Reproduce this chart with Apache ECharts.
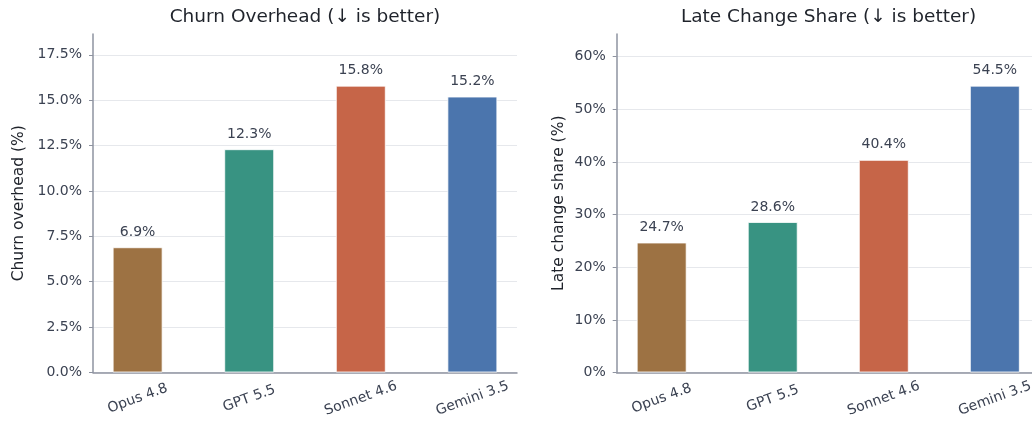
<!DOCTYPE html>
<html><head><meta charset="utf-8">
<script src="https://cdn.jsdelivr.net/npm/echarts@6/dist/echarts.min.js"></script>
<style>html,body{margin:0;padding:0;background:#fff}#c{width:1032px;height:421px}</style>
</head><body><div id="c"></div>
<script>
const categories = ['Opus 4.8', 'GPT 5.5', 'Sonnet 4.6', 'Gemini 3.5'];
const colors = ['#9d7243', '#389382', '#c66548', '#4b75ad'];
const churnValues = [6.9, 12.3, 15.8, 15.2];
const lateValues = [24.7, 28.6, 40.4, 54.5];
const churnTicks = [0, 2.5, 5, 7.5, 10, 12.5, 15, 17.5];
const lateTicks = [0, 10, 20, 30, 40, 50, 60];
const titles = ['Churn Overhead (↓ is better)', 'Late Change Share (↓ is better)'];
const yNames = ['Churn overhead (%)', 'Late change share (%)'];

const FONT = 'DejaVu Sans';
const TXT = '#3b4252';
const AX = '#8e93a0';

const chart = echarts.init(document.getElementById('c'), null, {renderer: 'canvas'});
const grids = [
  {left: 93, top: 34, width: 424, height: 338.5, outerBoundsMode: 'none', containLabel: false},
  {left: 616.7, top: 34, width: 422, height: 338.5, outerBoundsMode: 'none', containLabel: false}
];
const xRanges = [[-0.4, 3.4], [-0.405, 3.395]];
const centers = [300, 823.5];
function xAxis(i) {
  return {
    type: 'value', gridIndex: i, min: xRanges[i][0], max: xRanges[i][1],
    axisLine: {show: true, onZero: false, lineStyle: {color: AX, width: 1.5}},
    axisTick: {show: false},
    splitLine: {show: false},
    axisLabel: {
      customValues: [0, 1, 2, 3],
      formatter: v => categories[Math.round(v)],
      rotate: 20, align: 'center', verticalAlign: 'middle', margin: 26,
      color: TXT, fontFamily: FONT, fontSize: 14
    }
  };
}
function yAxis(i, ticks, max, fmt, nameGap) {
  return {
    type: 'value', gridIndex: i, min: 0, max: max,
    name: yNames[i], nameLocation: 'middle', nameGap: nameGap,
    nameTextStyle: {color: '#1f232b', fontFamily: FONT, fontSize: 15.5},
    axisLine: {show: true, onZero: false, lineStyle: {color: AX, width: 1.5}},
    axisTick: {show: true, length: 4, customValues: ticks, lineStyle: {color: AX}},
    splitLine: {show: true, lineStyle: {color: '#e6e8ec', width: 1}},
    axisLabel: {customValues: ticks, formatter: fmt, color: TXT, fontFamily: FONT, fontSize: 14, margin: 11}
  };
}
function series(i, vals, fmt) {
  return {
    type: 'bar', xAxisIndex: i, yAxisIndex: i, barWidth: 50,
    data: vals.map((v, k) => ({value: [k, v], itemStyle: {color: colors[k]}})),
    itemStyle: {borderColor: 'rgba(255,255,255,0.8)', borderWidth: 1},
    label: {show: true, position: 'top', distance: 8, formatter: p => fmt(p.value[1]),
      color: TXT, fontFamily: FONT, fontSize: 14},
    silent: true, animation: false
  };
}
chart.setOption({
  animation: false,
  title: titles.map((t, i) => ({
    text: t, left: centers[i], top: 3, textAlign: 'center',
    textStyle: {color: '#1f232b', fontFamily: FONT, fontSize: 18.5, fontWeight: 'normal'}
  })),
  grid: grids,
  xAxis: [xAxis(0), xAxis(1)],
  yAxis: [
    yAxis(0, churnTicks, 15.8 * 1.18, v => v.toFixed(1) + '%', 66),
    yAxis(1, lateTicks, 54.5 * 1.18, v => v.toFixed(0) + '%', 50)
  ],
  series: [
    series(0, churnValues, v => v.toFixed(1) + '%'),
    series(1, lateValues, v => v.toFixed(1) + '%')
  ]
});
</script></body></html>
